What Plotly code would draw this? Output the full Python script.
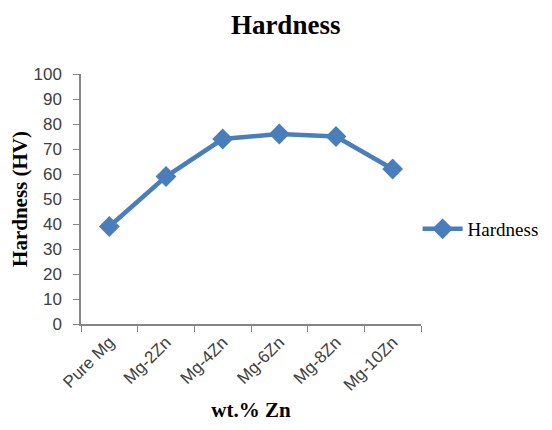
import plotly.graph_objects as go

categories = ["Pure Mg", "Mg-2Zn", "Mg-4Zn", "Mg-6Zn", "Mg-8Zn", "Mg-10Zn"]
hardness = [39, 59, 74, 76, 75, 62]
y_ticks = [0, 10, 20, 30, 40, 50, 60, 70, 80, 90, 100]

fig = go.Figure()
fig.add_trace(go.Scatter(
    x=categories, y=hardness, mode="lines+markers", name="Hardness",
    line=dict(color="#4a7ebb", width=4.5),
    marker=dict(symbol="diamond", size=16, color="#4a7ebb"),
))

serif = "Liberation Serif, Times New Roman, serif"
sans = "Liberation Sans, Arial, sans-serif"

fig.update_layout(
    width=552, height=430,
    margin=dict(l=73, r=139, t=66, b=114, autoexpand=False),
    paper_bgcolor="white", plot_bgcolor="white",
    title=dict(text="<b>Hardness</b>", x=0.503, xanchor="center", y=0.984, yanchor="top",
               font=dict(family=serif, size=27, color="black")),
    showlegend=True,
    legend=dict(x=0.99, xanchor="left", y=0.38, yanchor="middle",
                font=dict(family=serif, size=19, color="black"),
                bgcolor="rgba(0,0,0,0)", itemwidth=40),
    xaxis=dict(
        type="category", range=[-0.5, 5.5], tickson="boundaries",
        showline=True, linecolor="#868686", linewidth=1.5,
        ticks="outside", ticklen=6, tickcolor="#868686",
        tickangle=-45, showgrid=False, zeroline=False,
        tickfont=dict(family=sans, size=17, color="#404040"),
        title=dict(text="<b>wt.% Zn</b>", font=dict(family=serif, size=21, color="black"), standoff=9),
    ),
    yaxis=dict(
        range=[0, 100], tickvals=y_ticks,
        showline=True, linecolor="#868686", linewidth=1.5,
        ticks="outside", ticklen=6, tickcolor="#868686",
        ticklabelstandoff=8,
        showgrid=False, zeroline=False,
        tickfont=dict(family=sans, size=17, color="#404040"),
        title=dict(text="<b>Hardness (HV)</b>", font=dict(family=serif, size=21, color="black"), standoff=2),
    ),
)

fig.write_html("out.html")
